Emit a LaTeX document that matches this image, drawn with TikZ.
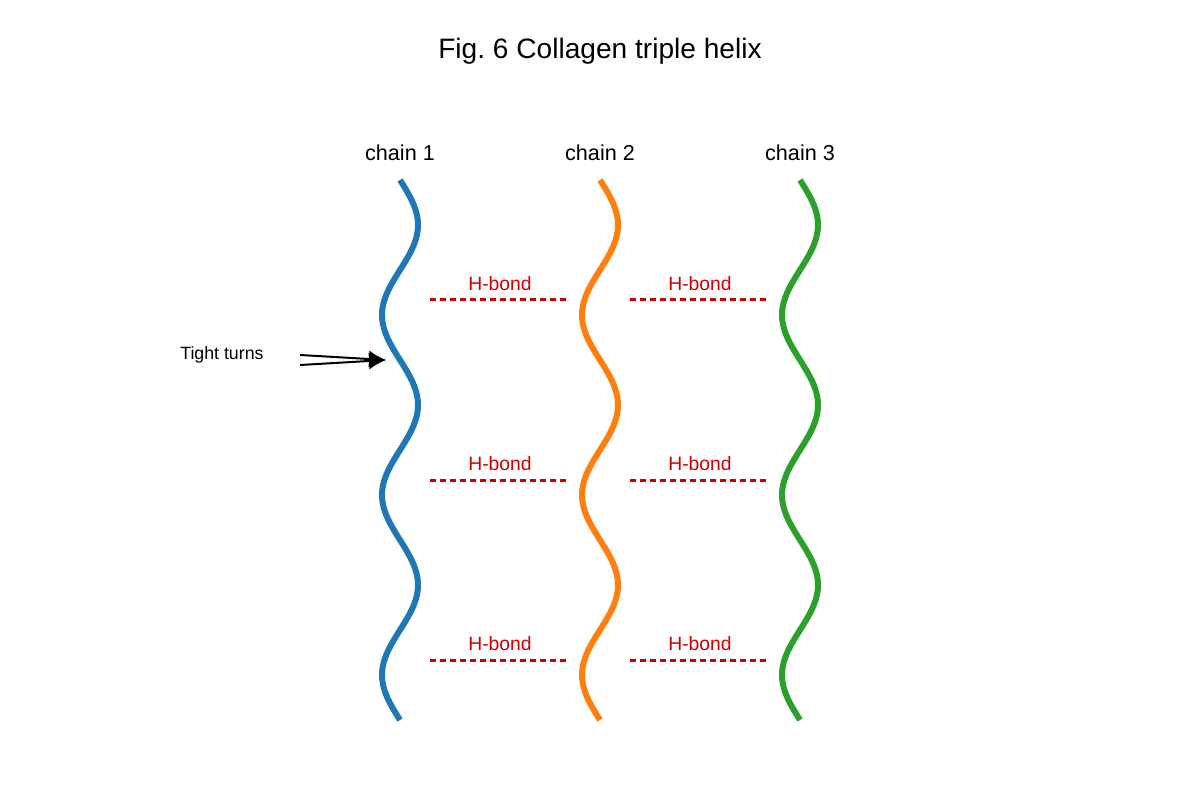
\documentclass[tikz,border=0pt]{standalone}
\usepackage{fontspec}
\setmainfont{Liberation Sans}
\usetikzlibrary{arrows.meta}
\definecolor{chainblue}{RGB}{31, 119, 180}
\definecolor{chainorange}{RGB}{255, 127, 14}
\definecolor{chaingreen}{RGB}{44, 160, 44}
\definecolor{bondred}{RGB}{204, 0, 0}

\begin{document}
\begin{tikzpicture}[
  x=0.02cm,y=-0.02cm,
  every node/.style={inner sep=0pt},
  strand/.style={line width=0.12cm},
  hbond/.style={draw=bondred,line width=0.06cm,dash pattern=on 0.12cm off 0.08cm},
  bondlabel/.style={text=bondred,font=\fontsize{11}{13}\selectfont},
  chainlabel/.style={font=\fontsize{12.3}{14}\selectfont}
]
  \useasboundingbox (0,0) rectangle (1200,800);
  \node[font=\fontsize{16}{19}\selectfont] (title) at (600,51) {Fig.\ 6 Collagen triple helix};

  % the three chains
  \foreach \cx/\col/\num in {400/chainblue/1,600/chainorange/2,800/chaingreen/3}{
    \node[chainlabel] (label\num) at (\cx,153) {chain \num};
    \draw[strand,\col] plot[domain=180:720,samples=150,smooth] ({\cx+18*sin(2*(\x-180))},\x);
  }

  % hydrogen bonds between neighbouring chains
  \foreach \y in {300,480,660}{
    \foreach \bx in {430,630}{
      \node[bondlabel] (hb\bx-\y) at (\bx+70,\y-16) {H-bond};
      \draw[hbond] (\bx,\y) -- (\bx+136,\y);
    }
  }

  % tight turns marker
  \node[font=\fontsize{10.1}{12}\selectfont,anchor=west] (turns) at (180,355) {Tight turns};
  \coordinate (tailA) at (300,355);
  \coordinate (tailB) at (300,365);
  \coordinate (tip) at (386,360);
  \draw[line width=0.04cm,-{Latex[length=0.34cm,width=0.34cm]}] (tailA) -- (tip);
  \draw[line width=0.04cm,-{Latex[length=0.34cm,width=0.34cm]}] (tailB) -- (tip);
\end{tikzpicture}
\end{document}
